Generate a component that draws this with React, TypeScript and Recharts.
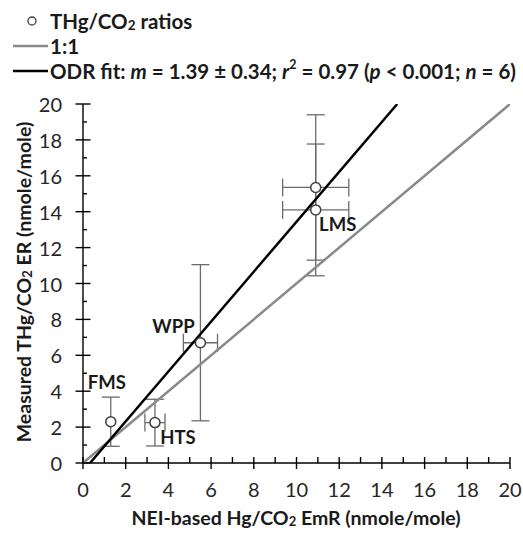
import { ScatterChart, Scatter, XAxis, YAxis, ErrorBar } from "recharts";

const FONT = "Lato, 'Open Sans', sans-serif";

// site ratios (x = NEI-based EmR, y = measured ER)
const SITES = ["FMS", "HTS", "WPP", "LMS-a", "LMS"];
const NEI_RATIO = [1.3, 3.37, 5.5, 10.9, 10.9];
const NEI_ERR = [0, 0.47, 0.8, 1.55, 1.55];
const MEAS_RATIO = [2.3, 2.25, 6.7, 15.35, 14.1];
const MEAS_ERR = [1.37, 1.3, 4.35, 4.05, 3.67];

// reference lines
const ONE_X = [0, 20];
const ONE_Y = [0, 20];
const ODR_X = [0.33, 14.72];
const ODR_Y = [0, 20];

const AXIS_TICKS = [0, 1, 2, 3, 4, 5, 6, 7, 8, 9, 10, 11, 12, 13, 14, 15, 16, 17, 18, 19, 20];

// where each site name sits relative to its point
const LABEL_OFFSET: Record<string, [number, number]> = {
  FMS: [-4, -40],
  HTS: [23, 14],
  WPP: [-27, -17],
  LMS: [22, 14],
};

const points = SITES.map((s, i) => ({
  site: s,
  x: NEI_RATIO[i],
  y: MEAS_RATIO[i],
  ex: NEI_ERR[i],
  ey: MEAS_ERR[i],
}));
const oneToOne = ONE_X.map((x, i) => ({ x, y: ONE_Y[i] }));
const odrLine = ODR_X.map((x, i) => ({ x, y: ODR_Y[i] }));

function SiteDot(props: any) {
  const { cx, cy, payload } = props;
  const off = LABEL_OFFSET[payload.site];
  return (
    <g>
      <circle cx={cx} cy={cy} r={5} fill="#fff" stroke="#404040" strokeWidth={1.5} />
      {off && (
        <text x={cx + off[0]} y={cy + off[1]} textAnchor="middle" dominantBaseline="central"
          fontFamily={FONT} fontWeight="bold" fontSize={18.5} fill="#1a1a1a">
          {payload.site}
        </text>
      )}
    </g>
  );
}

function XTick(props: any) {
  const { x, y, payload } = props;
  const major = payload.value % 2 === 0;
  return (
    <g>
      <line x1={x} x2={x} y1={y - 6} y2={major ? y + 6 : y} stroke="#000" strokeWidth={1.4} />
      {major && (
        <text x={x} y={y + 26} textAnchor="middle" dominantBaseline="central" fontFamily={FONT} fontSize={20} fill="#262626">
          {payload.value}
        </text>
      )}
    </g>
  );
}

function YTick(props: any) {
  const { x, y, payload } = props;
  const major = payload.value % 2 === 0;
  return (
    <g>
      <line x1={major ? x - 7.5 : x} x2={major ? x + 7.5 : x + 4} y1={y} y2={y} stroke="#000" strokeWidth={1.4} />
      {major && (
        <text x={x - 21} y={y} textAnchor="end" dominantBaseline="central" fontFamily={FONT} fontSize={20} fill="#262626">
          {payload.value}
        </text>
      )}
    </g>
  );
}

const noShape = () => <g />;

export default function App() {
  const title = { fontFamily: FONT, fontWeight: "bold" as const, fontSize: 19.5, fill: "#1a1a1a" };
  const legend = { ...title, fontSize: 20.5 };
  return (
    <div style={{ position: "absolute", left: 0, top: 0, width: 523, height: 534, background: "#fff" }}>
      <ScatterChart width={523} height={534} margin={{ top: 104, right: 13, bottom: 0, left: 0 }}>
        <XAxis type="number" dataKey="x" domain={[0, 20]} ticks={AXIS_TICKS} interval={0} height={71}
          tickSize={0} tickMargin={0} tickLine={false} axisLine={{ stroke: "#000", strokeWidth: 1.4 }}
          tick={<XTick />} allowDataOverflow />
        <YAxis type="number" dataKey="y" domain={[0, 20]} ticks={AXIS_TICKS} interval={0} width={83}
          tickSize={0} tickMargin={0} tickLine={false} axisLine={{ stroke: "#000", strokeWidth: 1.4 }}
          tick={<YTick />} allowDataOverflow />
        <Scatter data={oneToOne} line={{ stroke: "#8a8a8a", strokeWidth: 2.5 }} shape={noShape} isAnimationActive={false} />
        <Scatter data={odrLine} line={{ stroke: "#000", strokeWidth: 2.5 }} shape={noShape} isAnimationActive={false} />
        <Scatter data={points} shape={SiteDot} isAnimationActive={false}>
          <ErrorBar dataKey="ex" direction="x" width={9} stroke="#6b6b6b" strokeWidth={1.3} isAnimationActive={false} />
          <ErrorBar dataKey="ey" direction="y" width={9} stroke="#6b6b6b" strokeWidth={1.3} isAnimationActive={false} />
        </Scatter>
      </ScatterChart>
      <svg width={523} height={534} style={{ position: "absolute", left: 0, top: 0, pointerEvents: "none" }}>
        {/* legend */}
        <circle cx={32} cy={21} r={4} fill="#fff" stroke="#404040" strokeWidth={1.3} />
        <text x={50} y={21} dominantBaseline="central" {...legend}>
          THg/CO<tspan dy={4} fontSize={13.5}>2</tspan><tspan dy={-4}> ratios</tspan>
        </text>
        <line x1={13} x2={48} y1={46} y2={46} stroke="#8a8a8a" strokeWidth={2.5} />
        <text x={50} y={46} dominantBaseline="central" {...legend}>1:1</text>
        <line x1={13} x2={48} y1={71} y2={71} stroke="#000" strokeWidth={2.5} />
        <text x={50} y={71} dominantBaseline="central" {...legend}>
          {"ODR fit: "}<tspan fontStyle="italic">m</tspan>{" = 1.39 ± 0.34; "}<tspan fontStyle="italic">r</tspan>
          <tspan dy={-7} fontSize={12.5}>2</tspan><tspan dy={7}>{" = 0.97 ("}</tspan>
          <tspan fontStyle="italic">p</tspan>{" < 0.001; "}<tspan fontStyle="italic">n</tspan>{" = 6)"}
        </text>
        {/* axis titles */}
        <text x={296} y={517} textAnchor="middle" dominantBaseline="central" {...title}>
          NEI-based Hg/CO<tspan dy={4} fontSize={13}>2</tspan><tspan dy={-4}> EmR (nmole/mole)</tspan>
        </text>
        <text transform="translate(23,282) rotate(-90)" textAnchor="middle" dominantBaseline="central" {...title}>
          Measured THg/CO<tspan dy={4} fontSize={13}>2</tspan><tspan dy={-4}> ER (nmole/mole)</tspan>
        </text>
      </svg>
    </div>
  );
}
